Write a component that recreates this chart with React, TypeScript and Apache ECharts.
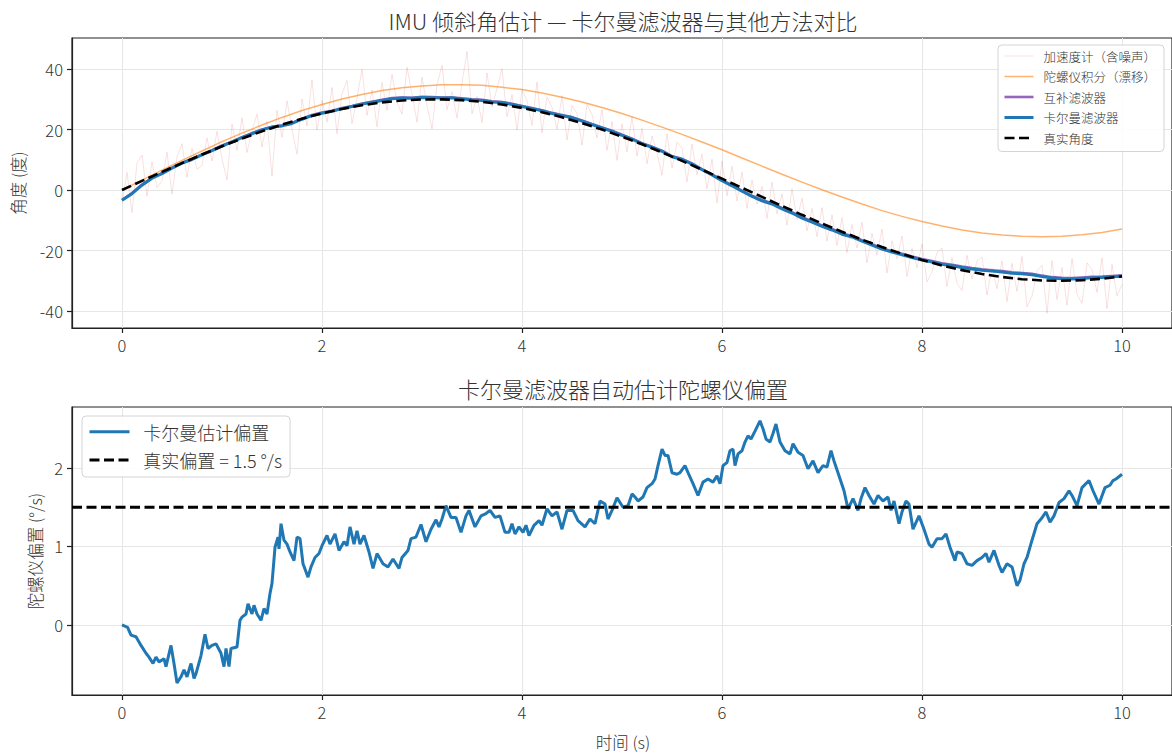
import { useEffect, useRef } from "react";
import * as echarts from "echarts";

// ---- text ----
const ANGLE_TITLE = "IMU 倾斜角估计 — 卡尔曼滤波器与其他方法对比";
const BIAS_TITLE = "卡尔曼滤波器自动估计陀螺仪偏置";
const ANGLE_Y_NAME = "角度 (度)";
const BIAS_Y_NAME = "陀螺仪偏置 (°/s)";
const TIME_X_NAME = "时间 (s)";

const ACCEL_NAME = "加速度计（含噪声）";
const GYRO_NAME = "陀螺仪积分（漂移）";
const COMP_NAME = "互补滤波器";
const KALMAN_NAME = "卡尔曼滤波器";
const TRUE_NAME = "真实角度";
const BIAS_EST_NAME = "卡尔曼估计偏置";
const TRUE_BIAS = 1.5;
const TRUE_BIAS_NAME = `真实偏置 = ${TRUE_BIAS} °/s`;

// ---- ticks ----
const timeTicks = [0, 2, 4, 6, 8, 10];
const angleTicks = [-40, -20, 0, 20, 40];
const biasTicks = [0, 1, 2];

// ---- angle data (degrees) ----
// accelerometer readings, one every 0.05 s
const ACCEL_DT = 0.05;
const accelAngle = [
  -4.2, 5.8, -7.5, 8.9, 11.6, -2.1, 9.4, 0.8, 3.1, 12.5, -1.4, 10.9,
  15.3, 4.2, 13.8, 6.9, 8.1, 17.2, 9.6, 19.4, 10.2, 3.4, 21.8, 13.1,
  23.9, 12.4, 19.6, 25.1, 14.2, 22.8, 4.6, 26.3, 17.4, 29.5, 20.1, 11.8,
  30.1, 21.2, 36.4, 19.8, 29.7, 22.4, 33.9, 18.6, 31.8, 36.2, 22.0, 30.4,
  39.9, 24.7, 33.1, 20.9, 35.6, 26.3, 38.2, 28.9, 25.1, 40.6, 31.8, 22.4,
  37.3, 27.9, 20.2, 34.8, 41.2, 26.6, 32.5, 23.8, 35.4, 45.8, 25.2, 30.9,
  22.3, 38.7, 27.4, 33.6, 40.1, 24.2, 31.5, 19.8, 33.2, 29.6, 21.4, 35.7,
  18.9, 30.8, 27.3, 20.1, 31.2, 16.5, 27.9, 25.4, 14.8, 28.3, 24.9, 17.2,
  26.5, 13.1, 22.7, 9.8, 21.9, 12.6, 24.3, 11.2, 20.4, 8.7, 17.9, 12.3,
  4.9, 18.6, 7.2, 15.8, 13.9, 2.7, 15.2, 5.1, 11.8, 0.4, 10.2, -4.3,
  9.6, -1.9, 7.8, -3.6, 5.9, -6.1, 3.2, -4.7, 1.2, -9.4, 2.6, -7.9,
  -1.3, -11.6, 0.4, -9.8, -2.7, -13.5, -6.1, -15.4, -5.8, -16.9, -8.2, -18.3,
  -9.1, -20.7, -11.4, -19.2, -10.6, -24.1, -14.3, -21.5, -12.9, -27.4, -16.8, -22.7,
  -15.2, -28.6, -19.3, -25.7, -17.8, -30.4, -27.1, -20.6, -19.2, -31.9, -22.4, -30.8,
  -33.2, -21.6, -29.4, -23.5, -22.1, -34.7, -25.8, -32.6, -23.4, -36.9, -24.2, -33.5,
  -21.9, -38.6, -35.1, -26.7, -24.8, -40.8, -23.3, -36.2, -25.6, -38.1, -22.7, -34.4,
  -37.5, -24.1, -26.2, -33.8, -22.5, -39.2, -24.6, -35.0, -31.2,
];

// true angle and integrated gyro, one every 0.2 s
const COARSE_DT = 0.2;
const trueAngle = [
  0, 3.01, 5.99, 8.91, 11.74, 14.45, 17.02, 19.41, 21.61, 23.59, 25.33,
  26.81, 28.03, 28.96, 29.6, 29.94, 29.98, 29.71, 29.15, 28.29, 27.14,
  25.73, 24.05, 22.12, 19.98, 17.63, 15.11, 12.43, 9.63, 6.73, 3.76,
  0.75, -2.26, -5.25, -8.19, -11.04, -13.79, -16.39, -18.83, -21.07, -23.12,
  -24.92, -26.47, -27.75, -28.75, -29.47, -29.88, -30.0, -29.81, -29.32, -28.53,
];
const gyroAngle = [
  0, 3.3, 6.6, 9.8, 12.9, 16.0, 18.8, 21.5, 24.0, 26.3, 28.3,
  30.1, 31.6, 32.9, 33.8, 34.4, 34.8, 34.8, 34.6, 34.0, 33.2,
  32.1, 30.7, 29.1, 27.3, 25.3, 23.1, 20.8, 18.4, 15.9, 13.3,
  10.6, 7.9, 5.2, 2.6, 0.1, -2.3, -4.6, -6.8, -8.7, -10.4,
  -11.9, -13.2, -14.2, -14.9, -15.3, -15.4, -15.3, -14.8, -14.0, -12.9,
];

// filter outputs, one every 0.1 s
const FILTER_DT = 0.1;
const complementaryAngle = [
  -3.3, -1.0, 1.8, 4.0, 5.6, 7.4, 9.0, 10.3, 11.8, 13.2, 14.7,
  16.0, 17.5, 18.8, 20.0, 20.9, 21.4, 22.2, 23.6, 24.8, 25.6,
  26.2, 27.1, 27.8, 28.6, 29.2, 29.8, 30.4, 30.6, 30.5, 30.8,
  30.7, 30.6, 30.6, 30.3, 30.0, 29.8, 29.3, 29.1, 28.5, 27.8,
  27.1, 26.4, 25.5, 24.8, 24.1, 23.0, 21.8, 20.7, 19.6, 18.3,
  17.0, 15.5, 14.3, 13.0, 11.2, 10.3, 8.8, 6.9, 5.2, 3.3,
  1.6, -0.2, -1.9, -3.3, -4.4, -5.9, -7.3, -9.0, -10.3, -11.7,
  -12.9, -14.3, -15.2, -16.6, -17.9, -19.2, -20.2, -21.1, -22.0, -22.8,
  -23.5, -24.2, -24.7, -25.3, -25.8, -26.2, -26.5, -26.8, -27.2, -27.4,
  -27.7, -28.3, -28.8, -29.0, -29.1, -28.9, -28.7, -28.6, -28.4, -28.2,
];
const kalmanAngle = [
  -3.4, -1.2, 1.6, 3.9, 5.4, 7.2, 8.9, 10.1, 11.6, 13.0, 14.5,
  15.9, 17.3, 18.6, 19.9, 20.8, 21.2, 22.0, 23.4, 24.6, 25.4,
  26.0, 26.9, 27.6, 28.4, 29.0, 29.6, 30.2, 30.4, 30.3, 30.6,
  30.5, 30.4, 30.5, 30.1, 29.8, 29.6, 29.1, 28.9, 28.3, 27.6,
  26.9, 26.2, 25.3, 24.6, 23.9, 22.8, 21.6, 20.5, 19.4, 18.1,
  16.8, 15.3, 14.1, 12.8, 11.0, 10.1, 8.6, 6.7, 5.0, 3.1,
  1.4, -0.4, -2.1, -3.6, -4.6, -6.2, -7.6, -9.3, -10.6, -12.0,
  -13.2, -14.6, -15.5, -16.9, -18.2, -19.5, -20.5, -21.4, -22.3, -23.1,
  -23.8, -24.5, -25.0, -25.6, -26.1, -26.5, -26.8, -27.1, -27.5, -27.7,
  -28.0, -28.6, -29.1, -29.3, -29.4, -29.2, -29.0, -28.9, -28.7, -28.5,
];

// ---- estimated gyro bias (°/s) ----
const biasTime = [
  0, 0.056, 0.09, 0.14, 0.19, 0.24, 0.27, 0.31, 0.34, 0.37, 0.42, 0.44, 0.49, 0.52,
  0.55, 0.59, 0.62, 0.65, 0.69, 0.72, 0.74, 0.79, 0.83, 0.86, 0.9, 0.94, 0.99, 1.02,
  1.04, 1.07, 1.09, 1.15, 1.18, 1.2, 1.24, 1.26, 1.3, 1.32, 1.35, 1.39, 1.42, 1.45,
  1.48, 1.5, 1.53, 1.56, 1.57, 1.59, 1.62, 1.65, 1.68, 1.72, 1.75, 1.78, 1.81, 1.86,
  1.89, 1.93, 1.97, 2.0, 2.05, 2.08, 2.13, 2.17, 2.22, 2.25, 2.28, 2.32, 2.35, 2.38,
  2.42, 2.47, 2.51, 2.55, 2.61, 2.66, 2.71, 2.77, 2.8, 2.86, 2.89, 2.94, 2.99, 3.04,
  3.09, 3.14, 3.17, 3.2, 3.24, 3.29, 3.34, 3.39, 3.44, 3.47, 3.53, 3.59, 3.64, 3.68,
  3.73, 3.78, 3.83, 3.87, 3.9, 3.93, 3.97, 4.01, 4.04, 4.07, 4.12, 4.17, 4.2, 4.25,
  4.3, 4.35, 4.4, 4.45, 4.51, 4.56, 4.63, 4.68, 4.73, 4.78, 4.83, 4.86, 4.9, 4.95,
  4.98, 5.01, 5.06, 5.1, 5.13, 5.16, 5.21, 5.25, 5.3, 5.33, 5.36, 5.4, 5.43, 5.46,
  5.5, 5.55, 5.58, 5.63, 5.66, 5.71, 5.76, 5.81, 5.86, 5.91, 5.95, 5.98, 6.01, 6.05,
  6.08, 6.11, 6.13, 6.16, 6.2, 6.23, 6.26, 6.29, 6.33, 6.38, 6.41, 6.44, 6.48, 6.51,
  6.54, 6.58, 6.63, 6.68, 6.71, 6.76, 6.81, 6.86, 6.91, 6.96, 7.01, 7.05, 7.09, 7.12,
  7.17, 7.22, 7.26, 7.31, 7.36, 7.39, 7.43, 7.47, 7.52, 7.56, 7.61, 7.66, 7.69, 7.72,
  7.77, 7.8, 7.84, 7.87, 7.91, 7.97, 8.02, 8.07, 8.1, 8.15, 8.2, 8.24, 8.28, 8.33,
  8.35, 8.4, 8.45, 8.5, 8.55, 8.6, 8.64, 8.67, 8.72, 8.77, 8.8, 8.85, 8.9, 8.95,
  8.98, 9.02, 9.05, 9.1, 9.15, 9.19, 9.24, 9.28, 9.32, 9.37, 9.42, 9.47, 9.5, 9.55,
  9.6, 9.67, 9.71, 9.77, 9.83, 9.88, 9.91, 9.94, 10.0,
];
const biasEstimate = [
  0, -0.03, -0.13, -0.15, -0.26, -0.36, -0.41, -0.49, -0.41, -0.47, -0.43, -0.53, -0.26, -0.49,
  -0.74, -0.66, -0.57, -0.66, -0.49, -0.68, -0.62, -0.39, -0.12, -0.3, -0.26, -0.24, -0.36, -0.53,
  -0.3, -0.53, -0.3, -0.28, 0.06, 0.1, 0.14, 0.27, 0.14, 0.25, 0.14, 0.06, 0.21, 0.14,
  0.4, 0.53, 0.99, 1.12, 0.97, 1.29, 1.08, 1.03, 0.93, 0.82, 1.12, 1.1, 0.78, 0.61,
  0.74, 0.86, 0.91, 1.01, 1.14, 1.03, 1.16, 0.95, 1.06, 1.01, 1.25, 1.03, 1.2, 1.03,
  1.14, 0.93, 0.72, 0.91, 0.78, 0.74, 0.84, 0.72, 0.86, 0.95, 1.1, 1.12, 1.28, 1.06,
  1.22, 1.34, 1.25, 1.35, 1.52, 1.37, 1.37, 1.18, 1.39, 1.46, 1.25, 1.39, 1.42, 1.46,
  1.37, 1.39, 1.18, 1.18, 1.29, 1.16, 1.25, 1.18, 1.27, 1.14, 1.27, 1.33, 1.27, 1.48,
  1.39, 1.44, 1.22, 1.46, 1.46, 1.33, 1.25, 1.35, 1.29, 1.58, 1.54, 1.35, 1.46, 1.62,
  1.56, 1.5, 1.52, 1.67, 1.63, 1.58, 1.63, 1.75, 1.8, 1.86, 2.03, 2.24, 2.16, 2.16,
  1.94, 1.92, 1.94, 2.03, 1.94, 1.8, 1.65, 1.82, 1.86, 1.82, 1.9, 1.8, 2.03, 2.07,
  2.22, 2.24, 2.03, 2.18, 2.22, 2.33, 2.41, 2.37, 2.47, 2.6, 2.5, 2.37, 2.33, 2.44,
  2.56, 2.33, 2.22, 2.18, 2.31, 2.2, 2.16, 1.99, 2.09, 1.94, 2.03, 2.01, 2.22, 2.09,
  1.9, 1.71, 1.48, 1.61, 1.46, 1.61, 1.75, 1.65, 1.54, 1.65, 1.58, 1.63, 1.46, 1.58,
  1.29, 1.44, 1.58, 1.54, 1.22, 1.39, 1.22, 1.03, 0.99, 1.1, 1.1, 1.16, 0.99, 0.82,
  0.93, 0.91, 0.78, 0.76, 0.82, 0.86, 0.91, 0.8, 0.95, 0.76, 0.67, 0.78, 0.74, 0.5,
  0.57, 0.78, 0.86, 1.08, 1.29, 1.35, 1.44, 1.31, 1.39, 1.56, 1.61, 1.71, 1.65, 1.52,
  1.75, 1.84, 1.71, 1.54, 1.75, 1.78, 1.84, 1.86, 1.92,
];

// ---- axes ranges ----
const TIME_MIN = -0.5;
const TIME_MAX = 10.5;
const ANGLE_MIN = -45.6;
const ANGLE_MAX = 50.25;
const BIAS_MIN = -0.892;
const BIAS_MAX = 2.777;

// ---- style ----
const FONT = '"Noto Sans CJK SC", "Noto Sans", sans-serif';
const TEXT = "#333";
const FRAME = "#222";
const GRID_LINE = "#e6e6e6";
const DASH = [10, 4.5];

const accelStyle = { color: "#d62728", width: 0.9, opacity: 0.16 };
const gyroStyle = { color: "#ff7f0e", width: 1.5, opacity: 0.6 };
const compStyle = { color: "#9467bd", width: 2.6 };
const kalmanStyle = { color: "#1f77b4", width: 3 };
const trueStyle = { color: "#000000", width: 2.6, type: DASH };
const biasEstStyle = { color: "#1f77b4", width: 3 };
const trueBiasStyle = { color: "#000000", width: 2.8, type: DASH };

const sampled = (values: number[], dt: number) =>
  values.map((v, i) => [Math.round(i * dt * 1000) / 1000, v]);

const paired = (xs: number[], ys: number[]) => xs.map((x, i) => [x, ys[i]]);

const tickLabelStyle = {
  color: TEXT,
  fontFamily: FONT,
  fontSize: 16.5,
  fontWeight: 300 as const,
};

function timeAxis(gridIndex: number) {
  return {
    type: "value" as const,
    gridIndex,
    min: TIME_MIN,
    max: TIME_MAX,
    axisLine: { show: true, onZero: false, lineStyle: { color: FRAME, width: 1.2 } },
    axisTick: {
      show: true,
      length: 5,
      customValues: timeTicks,
      lineStyle: { color: FRAME, width: 1.2 },
    },
    axisLabel: { ...tickLabelStyle, margin: 9, customValues: timeTicks },
    splitLine: { show: true, lineStyle: { color: GRID_LINE, width: 1 } },
  };
}

function valueAxis(gridIndex: number, min: number, max: number, ticks: number[]) {
  return {
    type: "value" as const,
    gridIndex,
    min,
    max,
    axisLine: { show: true, onZero: false, lineStyle: { color: FRAME, width: 1.2 } },
    axisTick: {
      show: true,
      length: 5,
      customValues: ticks,
      lineStyle: { color: FRAME, width: 1.2 },
    },
    axisLabel: { ...tickLabelStyle, margin: 9, customValues: ticks },
    splitLine: { show: true, lineStyle: { color: GRID_LINE, width: 1 } },
  };
}

function lineSeries(
  name: string,
  axis: number,
  data: number[][],
  lineStyle: Record<string, unknown>,
  z: number
) {
  return {
    type: "line" as const,
    name,
    xAxisIndex: axis,
    yAxisIndex: axis,
    data,
    symbol: "none",
    showSymbol: false,
    silent: true,
    z,
    lineStyle,
    itemStyle: { color: lineStyle.color as string },
    emphasis: { disabled: true },
  };
}

function titleText(text: string, x: number, y: number, size: number, rotate = false) {
  return {
    type: "text" as const,
    x,
    y,
    rotation: rotate ? Math.PI / 2 : 0,
    silent: true,
    style: {
      text,
      fill: TEXT,
      fontFamily: FONT,
      fontSize: size,
      fontWeight: 300,
      align: "center",
      verticalAlign: "middle",
    },
  };
}

// legend keys show only the line sample (same width as the plotted line)
const legendKey = (name: string, style: Record<string, unknown>) => ({
  name,
  lineStyle: { width: style.width, type: style.type ?? "solid" },
});

const legendBase = {
  orient: "vertical",
  backgroundColor: "rgba(255,255,255,0.85)",
  borderColor: "#d4d4d4",
  borderWidth: 1,
  borderRadius: 4,
  selectedMode: false,
  itemStyle: { opacity: 0, borderWidth: 0 },
};

function buildOption() {
  return {
    animation: false,
    backgroundColor: "#ffffff",
    grid: [
      {
        left: 72,
        top: 38,
        width: 1103,
        height: 290,
        show: true,
        borderColor: FRAME,
        borderWidth: 1.2,
        backgroundColor: "transparent",
      },
      {
        left: 72,
        top: 407,
        width: 1103,
        height: 288,
        show: true,
        borderColor: FRAME,
        borderWidth: 1.2,
        backgroundColor: "transparent",
      },
    ],
    xAxis: [timeAxis(0), timeAxis(1)],
    yAxis: [
      valueAxis(0, ANGLE_MIN, ANGLE_MAX, angleTicks),
      valueAxis(1, BIAS_MIN, BIAS_MAX, biasTicks),
    ],
    legend: [
      {
        ...legendBase,
        data: [
          legendKey(ACCEL_NAME, accelStyle),
          legendKey(GYRO_NAME, gyroStyle),
          legendKey(COMP_NAME, compStyle),
          legendKey(KALMAN_NAME, kalmanStyle),
          legendKey(TRUE_NAME, trueStyle),
        ],
        left: 998,
        top: 45,
        itemWidth: 29,
        itemHeight: 12,
        itemGap: 5.5,
        padding: [3.5, 8, 6, 5],
        textStyle: {
          color: TEXT,
          fontFamily: FONT,
          fontSize: 12.5,
          fontWeight: 300,
          lineHeight: 15,
          padding: [0, 0, 0, 5],
        },
      },
      {
        ...legendBase,
        data: [legendKey(BIAS_EST_NAME, biasEstStyle), legendKey(TRUE_BIAS_NAME, trueBiasStyle)],
        left: 82,
        top: 416,
        itemWidth: 40,
        itemHeight: 14,
        itemGap: 8.3,
        padding: [5.7, 8, 7, 6],
        textStyle: {
          color: TEXT,
          fontFamily: FONT,
          fontSize: 18,
          fontWeight: 300,
          lineHeight: 20,
          padding: [0, 0, 0, 8.7],
        },
      },
    ],
    series: [
      lineSeries(ACCEL_NAME, 0, sampled(accelAngle, ACCEL_DT), accelStyle, 1),
      lineSeries(GYRO_NAME, 0, sampled(gyroAngle, COARSE_DT), gyroStyle, 2),
      lineSeries(COMP_NAME, 0, sampled(complementaryAngle, FILTER_DT), compStyle, 3),
      lineSeries(KALMAN_NAME, 0, sampled(kalmanAngle, FILTER_DT), kalmanStyle, 4),
      lineSeries(TRUE_NAME, 0, sampled(trueAngle, COARSE_DT), trueStyle, 5),
      lineSeries(BIAS_EST_NAME, 1, paired(biasTime, biasEstimate), biasEstStyle, 4),
      lineSeries(
        TRUE_BIAS_NAME,
        1,
        [
          [TIME_MIN, TRUE_BIAS],
          [TIME_MAX, TRUE_BIAS],
        ],
        trueBiasStyle,
        5
      ),
    ],
    graphic: [
      titleText(ANGLE_TITLE, 623, 20, 22),
      titleText(BIAS_TITLE, 623, 388, 22),
      titleText(ANGLE_Y_NAME, 18, 183, 16.5, true),
      titleText(BIAS_Y_NAME, 35, 551, 16.5, true),
      titleText(TIME_X_NAME, 623, 742, 16.5),
    ],
  };
}

export default function App() {
  const ref = useRef<HTMLDivElement>(null);

  useEffect(() => {
    if (!ref.current) return;
    const chart = echarts.init(ref.current, null, { renderer: "svg" });
    chart.setOption(buildOption() as any);
    return () => chart.dispose();
  }, []);

  return (
    <div
      ref={ref}
      style={{
        position: "fixed",
        left: 0,
        top: 0,
        width: 1172,
        height: 753,
        background: "#ffffff",
      }}
    />
  );
}
